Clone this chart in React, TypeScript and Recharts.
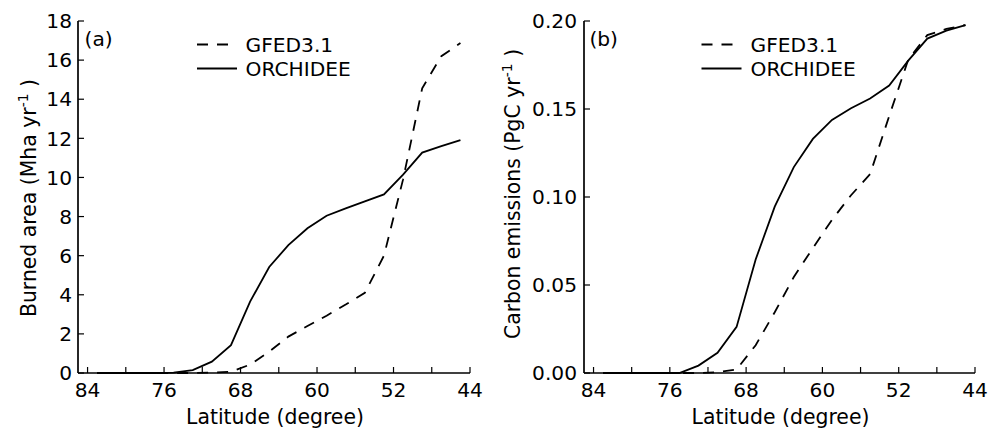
import React from 'react';
import { LineChart, Line, XAxis, YAxis, Legend } from 'recharts';

const latitudes = [83, 81, 79, 77, 75, 73, 71, 69, 67, 65, 63, 61, 59, 57, 55, 53, 51, 49, 47, 45];
const burnedGFED = [0, 0, 0, 0, 0, 0, 0.02, 0.06, 0.43, 1.09, 1.86, 2.4, 2.93, 3.5, 4.1, 6.0, 9.9, 14.56, 16.2, 16.87];
const burnedORCHIDEE = [0, 0, 0, 0, 0.02, 0.15, 0.58, 1.42, 3.65, 5.42, 6.54, 7.4, 8.04, 8.42, 8.78, 9.13, 10.14, 11.27, 11.6, 11.91];
const carbonGFED = [0, 0, 0, 0, 0, 0, 0.0005, 0.002, 0.0158, 0.0345, 0.0545, 0.071, 0.087, 0.101, 0.113, 0.146, 0.178, 0.192, 0.1955, 0.1977];
const carbonORCHIDEE = [0, 0, 0, 0, 0, 0.0042, 0.0115, 0.0262, 0.0645, 0.0945, 0.117, 0.133, 0.1438, 0.1504, 0.156, 0.1633, 0.1775, 0.19, 0.1945, 0.1977];

const latTicks = [84, 80, 76, 72, 68, 64, 60, 56, 52, 48, 44];
const latLabelTicks = [84, 76, 68, 60, 52, 44];
const burnedTicks = [0, 2, 4, 6, 8, 10, 12, 14, 16, 18];
const carbonTicks = [0, 0.05, 0.1, 0.15, 0.2];
const seriesNames = ['GFED3.1', 'ORCHIDEE'];

const FONT = "'DejaVu Sans', sans-serif";
const DASH = '11 9';
const H = 429;
const LW = 1.8;

type PanelProps = {
  left: number;
  width: number;
  yAxisWidth: number;
  marginRight: number;
  gfed: number[];
  orchidee: number[];
  yTicks: number[];
  yMax: number;
  yFormat: (v: number) => string;
  yTickMargin: number;
  yLabel: string;
  yLabelX: number;
  yLabelY: number;
  tag: string;
  tagX: number;
  legendLineX: number;
  legendTextX: number;
};

function Panel(p: PanelProps) {
  const rows = latitudes.map((lat, i) => ({ lat, gfed: p.gfed[i], orchidee: p.orchidee[i] }));
  const plotCenterX = (p.yAxisWidth + (p.width - p.marginRight)) / 2 + 1;
  const axisLine = { stroke: '#000', strokeWidth: 1.7 };
  const tickLine = { stroke: '#000', strokeWidth: 1.2 };
  const tickStyle = { fontSize: 20.2, fill: '#000', fontFamily: FONT };
  return (
    <div style={{ position: 'absolute', left: p.left, top: 0 }}>
      <LineChart
        width={p.width}
        height={H}
        data={rows}
        margin={{ top: 21, right: p.marginRight, bottom: 0, left: 0 }}
        style={{ fontFamily: FONT }}
      >
        <XAxis
          dataKey="lat"
          type="number"
          domain={[44, 85]}
          reversed
          ticks={latTicks}
          interval={0}
          tickFormatter={(v: number) => (latLabelTicks.includes(v) ? String(v) : '')}
          tickSize={-6}
          tickMargin={16}
          height={56}
          axisLine={axisLine}
          tickLine={tickLine}
          tick={tickStyle}
          label={{
            content: () => (
              <text x={plotCenterX} y={424} textAnchor="middle" fontSize={20.4} fontFamily={FONT} fill="#000">
                Latitude (degree)
              </text>
            ),
          }}
        />
        <XAxis
          xAxisId="top"
          orientation="top"
          dataKey="lat"
          type="number"
          domain={[44, 85]}
          reversed
          ticks={latTicks}
          interval={0}
          tickFormatter={() => ''}
          tickSize={-6}
          height={0}
          axisLine={axisLine}
          tickLine={tickLine}
          tick={tickStyle}
        />
        <YAxis
          type="number"
          domain={[0, p.yMax]}
          ticks={p.yTicks}
          interval={0}
          tickFormatter={p.yFormat}
          tickSize={-6}
          tickMargin={p.yTickMargin}
          width={p.yAxisWidth}
          axisLine={axisLine}
          tickLine={tickLine}
          tick={tickStyle}
          label={{
            content: () => (
              <text
                x={p.yLabelX}
                y={p.yLabelY}
                transform={`rotate(-90 ${p.yLabelX} ${p.yLabelY})`}
                textAnchor="middle"
                fontSize={20.4}
                fontFamily={FONT}
                fill="#000"
              >
                <tspan>{p.yLabel}</tspan>
                <tspan dy={-8} fontSize={14}>-1</tspan>
                <tspan dy={8}> )</tspan>
              </text>
            ),
          }}
        />
        <YAxis
          yAxisId="right"
          orientation="right"
          type="number"
          domain={[0, p.yMax]}
          ticks={p.yTicks}
          interval={0}
          tickFormatter={() => ''}
          tickSize={-6}
          width={0}
          axisLine={axisLine}
          tickLine={tickLine}
          tick={tickStyle}
        />
        <Line
          type="linear"
          dataKey="gfed"
          name={seriesNames[0]}
          stroke="#000"
          strokeWidth={LW}
          strokeDasharray={DASH}
          dot={false}
          activeDot={false}
          isAnimationActive={false}
        />
        <Line
          type="linear"
          dataKey="orchidee"
          name={seriesNames[1]}
          stroke="#000"
          strokeWidth={LW}
          dot={false}
          activeDot={false}
          isAnimationActive={false}
        />
        <Legend
          layout="horizontal"
          verticalAlign="middle"
          align="center"
          wrapperStyle={{ position: 'absolute', left: 0, top: 0, width: p.width, height: 90, pointerEvents: 'none' }}
          content={() => (
            <svg width={p.width} height={90} style={{ display: 'block' }}>
              <text x={p.tagX} y={45.5} fontSize={20.2} fontFamily={FONT} fill="#000">{p.tag}</text>
              <line x1={p.legendLineX} x2={p.legendLineX + 40} y1={44.5} y2={44.5} stroke="#000" strokeWidth={LW} strokeDasharray={DASH} />
              <text x={p.legendTextX} y={51.8} fontSize={20.2} fontFamily={FONT} fill="#000">{seriesNames[0]}</text>
              <line x1={p.legendLineX} x2={p.legendLineX + 40} y1={68.5} y2={68.5} stroke="#000" strokeWidth={LW} />
              <text x={p.legendTextX} y={75.8} fontSize={20.2} fontFamily={FONT} fill="#000">{seriesNames[1]}</text>
            </svg>
          )}
        />
      </LineChart>
    </div>
  );
}

export default function App() {
  return (
    <div style={{ position: 'absolute', left: 0, top: 0, width: 989, height: 429, background: '#fff' }}>
      <Panel
        left={0}
        width={494}
        yAxisWidth={78}
        marginRight={24}
        gfed={burnedGFED}
        orchidee={burnedORCHIDEE}
        yTicks={burnedTicks}
        yMax={18}
        yFormat={(v: number) => String(v)}
        yTickMargin={12}
        yLabel="Burned area (Mha yr"
        yLabelX={36}
        yLabelY={198}
        tag="(a)"
        tagX={84.5}
        legendLineX={197}
        legendTextX={245.5}
      />
      <Panel
        left={494}
        width={495}
        yAxisWidth={90}
        marginRight={14}
        gfed={carbonGFED}
        orchidee={carbonORCHIDEE}
        yTicks={carbonTicks}
        yMax={0.2}
        yFormat={(v: number) => v.toFixed(2)}
        yTickMargin={13}
        yLabel="Carbon emissions (PgC yr"
        yLabelX={26}
        yLabelY={194}
        tag="(b)"
        tagX={95.4}
        legendLineX={207.5}
        legendTextX={256.5}
      />
    </div>
  );
}
